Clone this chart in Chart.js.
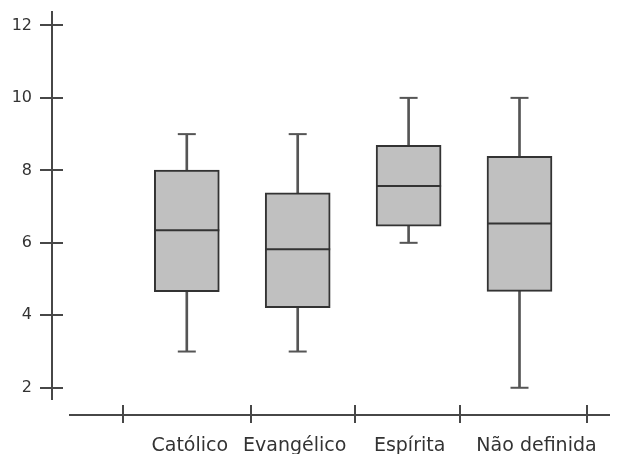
<!DOCTYPE html>
<html>
<head>
<meta charset="utf-8">
<title>Box plot</title>
<script src="https://cdn.jsdelivr.net/npm/chart.js@4.4.1/dist/chart.umd.min.js"></script>
<style>
    html, body { margin: 0; padding: 0; background: #ffffff; }
    #wrap { width: 632px; height: 454px; }
</style>
</head>
<body>
<div id="wrap"><canvas id="chart" width="632" height="454"></canvas></div>
<script>
// values
const categories = ['Católico', 'Evangélico', 'Espírita', 'Não definida'];
const minValues = [3, 3, 6, 2];
const q1Values = [4.65, 4.21, 6.46, 4.66];
const medianValues = [6.35, 5.82, 7.57, 6.53];
const q3Values = [8.01, 7.38, 8.69, 8.39];
const maxValues = [9, 9, 10, 10];
const yTickValues = [2, 4, 6, 8, 10, 12];
const xTickMarks = [0.425, 1.58, 2.52, 3.46, 4.61];

const positions = categories.map((c, i) => i + 1);
const axisColor = '#474747';
const textColor = '#333333';

const boxData = positions.map((x, i) => ({ x: x, y: [q1Values[i], q3Values[i]] }));
const whiskerData = positions.map((x, i) => ({ x: x, y: [minValues[i], maxValues[i]] }));
const medianData = positions.map((x, i) => ({ x: x, y: medianValues[i] }));
const capData = positions.map((x, i) => ({ x: x, y: maxValues[i] }))
    .concat(positions.map((x, i) => ({ x: x, y: minValues[i] })));

function align2(p) {
    return Math.round(p - 1) + 1;
}

// x axis sits apart from the y axis, with tick marks crossing both lines
const crossAxes = {
    id: 'crossAxes',
    afterDraw(chart, args, opts) {
        const { ctx, chartArea, scales } = chart;
        const xs = scales.x, ys = scales.y;
        ctx.save();
        ctx.strokeStyle = axisColor;
        ctx.lineWidth = 2;
        ctx.beginPath();
        yTickValues.forEach(v => {
            const py = align2(ys.getPixelForValue(v));
            ctx.moveTo(chartArea.left, py);
            ctx.lineTo(chartArea.left + 11, py);
        });
        const ay = align2(chartArea.bottom + 16);
        ctx.moveTo(chartArea.left + 17, ay);
        ctx.lineTo(chartArea.right, ay);
        xTickMarks.forEach(v => {
            const px = align2(xs.getPixelForValue(v));
            ctx.moveTo(px, ay - 10);
            ctx.lineTo(px, ay + 8);
        });
        ctx.stroke();

        ctx.fillStyle = textColor;
        ctx.font = '19px "DejaVu Sans"';
        ctx.textAlign = 'center';
        ctx.textBaseline = 'alphabetic';
        categories.forEach((c, i) => {
            ctx.fillText(c, xs.getPixelForValue(positions[i]) + opts.labelShift[i], ay + 36);
        });
        ctx.restore();
    }
};

new Chart(document.getElementById('chart'), {
    type: 'bar',
    data: {
        datasets: [
            {
                type: 'line',
                data: medianData,
                showLine: false,
                pointStyle: 'line',
                pointRadius: 32.5,
                pointBorderWidth: 2,
                pointBorderColor: '#333333',
                order: 0
            },
            {
                data: boxData,
                backgroundColor: '#c0c0c0',
                borderColor: '#333333',
                borderWidth: 2,
                borderSkipped: false,
                barThickness: 65,
                grouped: false,
                order: 1
            },
            {
                type: 'line',
                data: capData,
                showLine: false,
                pointStyle: 'line',
                pointRadius: 9,
                pointBorderWidth: 2,
                pointBorderColor: '#555555',
                order: 2
            },
            {
                data: whiskerData,
                backgroundColor: '#555555',
                borderWidth: 0,
                barThickness: 2,
                grouped: false,
                order: 3
            }
        ]
    },
    options: {
        responsive: false,
        animation: false,
        events: [],
        layout: {
            autoPadding: false,
            padding: { left: 0, top: 12, right: 22, bottom: 55 }
        },
        plugins: {
            legend: { display: false },
            tooltip: { enabled: false },
            crossAxes: { labelShift: [3, -3, 1, 17] }
        },
        scales: {
            x: {
                type: 'linear',
                display: false,
                offset: false,
                min: -0.2155,
                max: 4.816,
                grid: { offset: false }
            },
            y: {
                type: 'linear',
                bounds: 'data',
                min: 1.69,
                max: 12.37,
                afterBuildTicks: function(scale) {
                    scale.ticks = yTickValues.map(v => ({ value: v }));
                },
                afterFit: function(scale) {
                    scale.width = 52;
                    scale.paddingTop = 0;
                    scale.paddingBottom = 0;
                },
                border: {
                    display: true,
                    color: axisColor,
                    width: 2
                },
                grid: {
                    drawOnChartArea: false,
                    drawTicks: true,
                    tickLength: 12,
                    color: axisColor,
                    lineWidth: 2
                },
                ticks: {
                    padding: 8,
                    color: textColor,
                    font: {
                        family: 'DejaVu Sans',
                        size: 16
                    }
                }
            }
        }
    },
    plugins: [crossAxes]
});
</script>
</body>
</html>
